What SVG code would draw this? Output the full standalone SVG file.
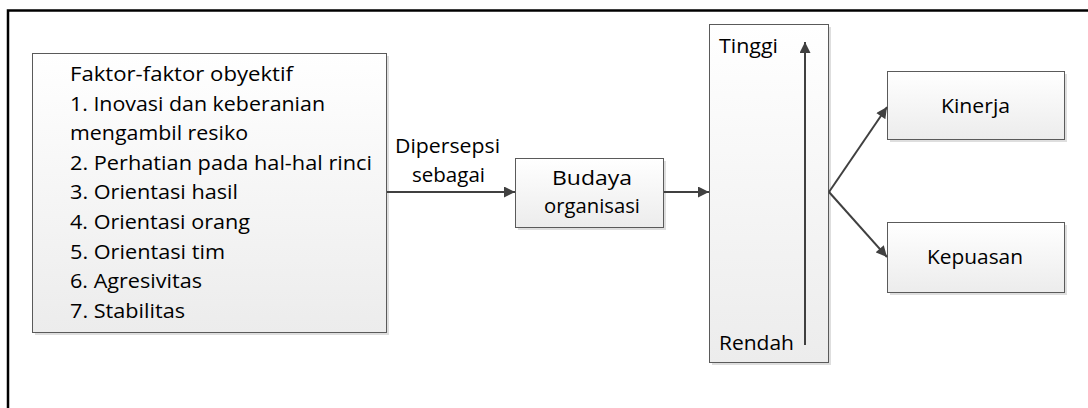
<svg xmlns="http://www.w3.org/2000/svg" width="1088" height="408" viewBox="0 0 1088 408">
<style>
.box{fill:url(#g);stroke:#5a5a5a;stroke-width:1}
.sh{fill:#dedede}
.t{font-family:"Open Sans",Lato,sans-serif;font-size:19.5px;fill:#000}
.c{text-anchor:middle}
.ln{stroke:#404040;stroke-width:2;fill:none}
</style>
<defs>
<linearGradient id="g" x1="0" y1="0" x2="0" y2="1">
<stop offset="0" stop-color="#ffffff"/>
<stop offset="1" stop-color="#ececec"/>
</linearGradient>
<marker id="a" viewBox="0 0 10 10" refX="10" refY="5" markerWidth="6" markerHeight="5.5" orient="auto" markerUnits="strokeWidth">
<path d="M0,0 L10,5 L0,10 Z" fill="#404040"/>
</marker>
</defs>
<rect width="1088" height="408" fill="#fff"/>
<path d="M8,408 V10.5 H1088" fill="none" stroke="#000" stroke-width="2.5"/>

<g id="faktor">
<rect class="sh" x="35" y="56" width="354" height="279"/>
<rect class="box" x="32.5" y="53.5" width="354" height="279"/>
<text class="t" x="70" y="81" textLength="223" lengthAdjust="spacingAndGlyphs">Faktor-faktor obyektif</text>
<text class="t" x="70" y="110.6" textLength="255" lengthAdjust="spacingAndGlyphs">1. Inovasi dan keberanian</text>
<text class="t" x="70" y="140.2" textLength="178" lengthAdjust="spacingAndGlyphs">mengambil resiko</text>
<text class="t" x="70" y="169.8" textLength="302" lengthAdjust="spacingAndGlyphs">2. Perhatian pada hal-hal rinci</text>
<text class="t" x="70" y="199.4" textLength="168" lengthAdjust="spacingAndGlyphs">3. Orientasi hasil</text>
<text class="t" x="70" y="229" textLength="180" lengthAdjust="spacingAndGlyphs">4. Orientasi orang</text>
<text class="t" x="70" y="258.6" textLength="155" lengthAdjust="spacingAndGlyphs">5. Orientasi tim</text>
<text class="t" x="70" y="288.2" textLength="132" lengthAdjust="spacingAndGlyphs">6. Agresivitas</text>
<text class="t" x="70" y="317.8" textLength="115" lengthAdjust="spacingAndGlyphs">7. Stabilitas</text>
</g>

<g id="budaya">
<rect class="sh" x="518" y="161" width="148" height="69"/>
<rect class="box" x="515.5" y="158.5" width="148" height="69"/>
<text class="t c" x="592" y="185" textLength="80" lengthAdjust="spacingAndGlyphs">Budaya</text>
<text class="t c" x="592" y="213" textLength="96" lengthAdjust="spacingAndGlyphs">organisasi</text>
</g>

<g id="skala">
<rect class="sh" x="712" y="27" width="119" height="338"/>
<rect class="box" x="709.5" y="24.5" width="119" height="338"/>
<text class="t" x="719" y="53" textLength="59" lengthAdjust="spacingAndGlyphs">Tinggi</text>
<text class="t" x="719" y="350" textLength="75" lengthAdjust="spacingAndGlyphs">Rendah</text>
</g>

<g id="kinerja">
<rect class="sh" x="890" y="74" width="177" height="68"/>
<rect class="box" x="887.5" y="71.5" width="177" height="68"/>
<text class="t c" x="975.5" y="113" textLength="69" lengthAdjust="spacingAndGlyphs">Kinerja</text>
</g>

<g id="kepuasan">
<rect class="sh" x="890" y="225" width="177" height="70"/>
<rect class="box" x="887.5" y="222.5" width="177" height="70"/>
<text class="t c" x="975" y="264" textLength="96" lengthAdjust="spacingAndGlyphs">Kepuasan</text>
</g>

<g id="connectors">
<line class="ln" x1="387" y1="192" x2="515" y2="192" marker-end="url(#a)"/>
<text class="t c" x="447.5" y="153" textLength="105" lengthAdjust="spacingAndGlyphs">Dipersepsi</text>
<text class="t c" x="448.5" y="182" textLength="73" lengthAdjust="spacingAndGlyphs">sebagai</text>
<line class="ln" x1="664" y1="192" x2="709" y2="192" marker-end="url(#a)"/>
<line class="ln" x1="805" y1="345" x2="805" y2="42" marker-end="url(#a)"/>
<line class="ln" x1="829" y1="192" x2="887" y2="107" marker-end="url(#a)"/>
<line class="ln" x1="829" y1="192" x2="887" y2="257" marker-end="url(#a)"/>
</g>
</svg>
